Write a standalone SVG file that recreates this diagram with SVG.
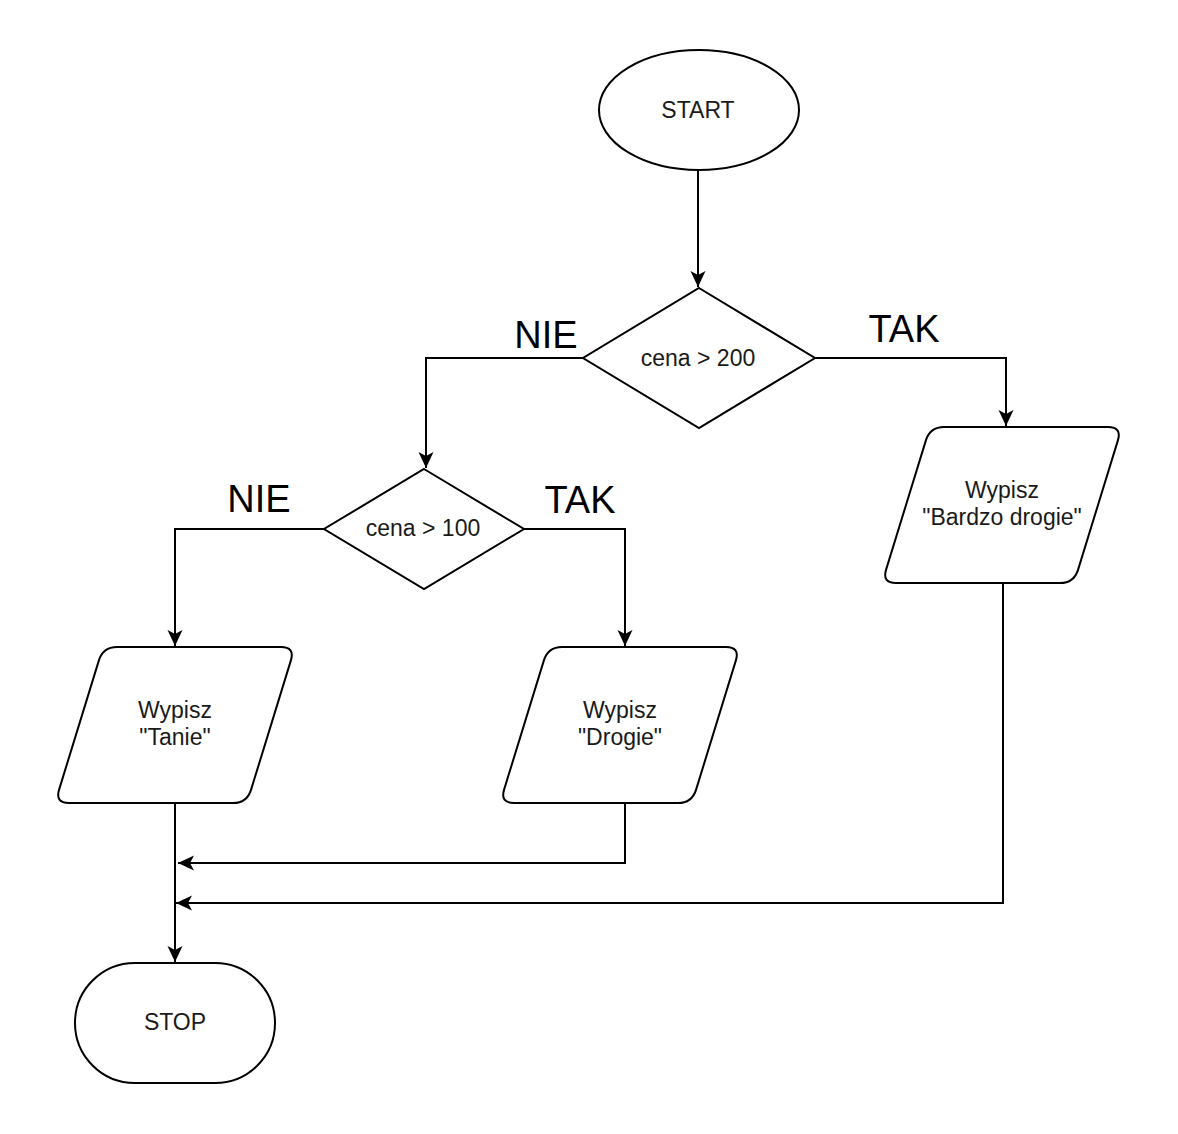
<svg xmlns="http://www.w3.org/2000/svg" xmlns:xlink="http://www.w3.org/1999/xlink" width="1178" height="1134" viewBox="0 0 1178 1134">
<style>
.shape{fill:#ffffff;stroke:#000000;stroke-width:2}
.conn{fill:none;stroke:#000000;stroke-width:2}
.t{font-family:"Liberation Sans",Arial,sans-serif;font-size:23px;fill:#1a1a1a;text-anchor:middle}
.big{font-family:"Liberation Sans",Arial,sans-serif;font-size:38px;fill:#000000;text-anchor:middle}
</style>
<defs>
<marker id="arr" markerUnits="userSpaceOnUse" viewBox="0 -8 16 16" refX="16" refY="0" markerWidth="16" markerHeight="16" orient="auto">
<path d="M0,-7.5 L16,0 L0,7.5 L4,0 Z" fill="#000"/>
</marker>
<path id="para" d="M 62 0 L 226 0 Q 240 0 235.9 13.4 L 196.1 142.6 Q 192 156 178 156 L 14 156 Q 0 156 4.1 142.6 L 43.9 13.4 Q 48 0 62 0 Z"/>
</defs>
<rect width="1178" height="1134" fill="#ffffff"/>
<g id="connectors">
<path class="conn" d="M698 170 L698 287" marker-end="url(#arr)"/>
<path class="conn" d="M583 358 L426 358 L426 468" marker-end="url(#arr)"/>
<path class="conn" d="M815 358 L1006 358 L1006 426" marker-end="url(#arr)"/>
<path class="conn" d="M324 529 L175 529 L175 646" marker-end="url(#arr)"/>
<path class="conn" d="M524 529 L625 529 L625 646" marker-end="url(#arr)"/>
<path class="conn" d="M175 803 L175 962" marker-end="url(#arr)"/>
<path class="conn" d="M625 803 L625 863 L178 863" marker-end="url(#arr)"/>
<path class="conn" d="M1003 583 L1003 903 L176 903" marker-end="url(#arr)"/>
</g>
<g id="labels">
<text class="big" x="546" y="348">NIE</text>
<text class="big" x="904" y="342">TAK</text>
<text class="big" x="259" y="512">NIE</text>
<text class="big" x="580" y="513">TAK</text>
</g>
<g id="start">
<ellipse class="shape" cx="699" cy="110" rx="100" ry="60"/>
<text class="t" x="698" y="118">START</text>
</g>
<g id="cond200">
<polygon class="shape" points="699,288 815,358 699,428 583,358"/>
<text class="t" x="698" y="366">cena &gt; 200</text>
</g>
<g id="cond100">
<polygon class="shape" points="424,469 524,529 424,589 324,529"/>
<text class="t" x="423" y="536">cena &gt; 100</text>
</g>
<g id="bardzo">
<use xlink:href="#para" href="#para" class="shape" x="882" y="427"/>
<text class="t" x="1002" y="498">Wypisz</text>
<text class="t" x="1002" y="525">"Bardzo drogie"</text>
</g>
<g id="tanie">
<use xlink:href="#para" href="#para" class="shape" x="55" y="647"/>
<text class="t" x="175" y="718">Wypisz</text>
<text class="t" x="175" y="745">"Tanie"</text>
</g>
<g id="drogie">
<use xlink:href="#para" href="#para" class="shape" x="500" y="647"/>
<text class="t" x="620" y="718">Wypisz</text>
<text class="t" x="620" y="745">"Drogie"</text>
</g>
<g id="stop">
<rect class="shape" x="75" y="963" width="200" height="120" rx="60" ry="60"/>
<text class="t" x="175" y="1030">STOP</text>
</g>
</svg>
